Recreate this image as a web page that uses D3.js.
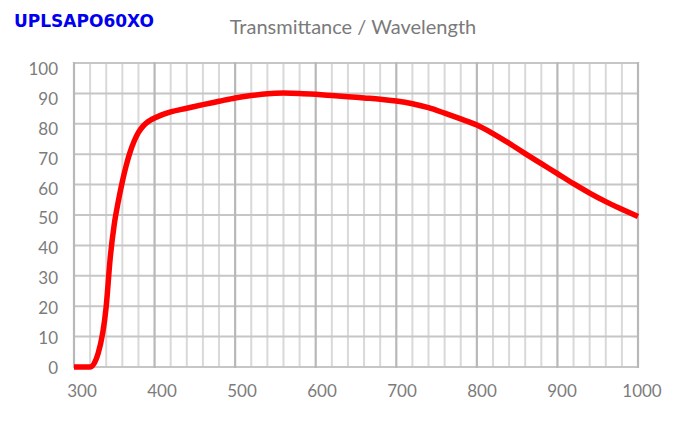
<!DOCTYPE html>
<html>
<head>
<meta charset="utf-8">
<script src="https://cdn.jsdelivr.net/npm/d3@7"></script>
<style>
  body { margin: 0; background: #fff; }
</style>
</head>
<body>
<svg width="680" height="429"></svg>
<script>
// wavelength (nm) and transmittance (%)
var wavelength = [300, 310, 320, 330, 340, 345, 350, 355, 360, 365, 370, 375, 380, 385, 390, 395, 400,
                  420, 440, 460, 480, 500, 520, 540, 560, 580, 600, 620, 640, 660, 680,
                  700, 720, 740, 760, 780, 800, 820, 840, 860, 880, 900, 920, 940, 960,
                  980, 1000];
var transmittance = [0, 0, 0, 4.5, 20, 36, 47, 54.5, 61, 66.5, 71, 74.5, 77.2, 79, 80.3, 81.2, 81.9,
                     83.9, 85.1, 86.3, 87.4, 88.5, 89.3, 89.9, 90.1, 90.0, 89.7, 89.3, 88.9, 88.5, 88.1,
                     87.5, 86.6, 85.3, 83.5, 81.6, 79.6, 76.8, 73.6, 70.2, 66.9, 63.6, 60.3, 57.2, 54.4,
                     51.9, 49.5];
var xTicks = [300, 400, 500, 600, 700, 800, 900, 1000];
var yTicks = [0, 10, 20, 30, 40, 50, 60, 70, 80, 90, 100];

var svg = d3.select("svg");
var plotLeft = 74, plotRight = 638, plotTop = 63, plotBottom = 367;

var x = d3.scaleLinear().domain([300, 1000]).range([plotLeft, plotRight]);
var y = d3.scaleLinear().domain([0, 100]).range([plotBottom, plotTop]);
// the labels in the original sit on a slightly different spacing than the grid
var xLab = d3.scaleLinear().domain([300, 1000]).range([82, 642]);
var yLab = d3.scaleLinear().domain([0, 100]).range([368, 69]);

// minor vertical grid every 20 nm
svg.append("g").selectAll("line")
  .data(d3.range(320, 1000, 20).filter(function(d) { return d % 100 != 0; }))
  .enter().append("line")
  .attr("x1", function(d) { return x(d); }).attr("x2", function(d) { return x(d); })
  .attr("y1", plotTop).attr("y2", plotBottom)
  .attr("stroke", "#d9d9d9").attr("stroke-width", 2);

// horizontal grid
svg.append("g").selectAll("line")
  .data(yTicks)
  .enter().append("line")
  .attr("x1", plotLeft).attr("x2", plotRight)
  .attr("y1", function(d) { return y(d); }).attr("y2", function(d) { return y(d); })
  .attr("stroke", "#c6c6c6").attr("stroke-width", 2);

// major vertical grid
svg.append("g").selectAll("line")
  .data(xTicks)
  .enter().append("line")
  .attr("x1", function(d) { return x(d); }).attr("x2", function(d) { return x(d); })
  .attr("y1", plotTop - 1).attr("y2", plotBottom + 1)
  .attr("stroke", "#b8b8b8").attr("stroke-width", 2.2);

// tick labels
svg.append("g").selectAll("text")
  .data(yTicks)
  .enter().append("text")
  .attr("x", 58)
  .attr("y", function(d) { return yLab(d); })
  .attr("dy", "0.35em")
  .attr("text-anchor", "end")
  .attr("font-family", "Lato, 'Open Sans', sans-serif")
  .attr("font-size", "17px")
  .attr("fill", "#7c7c7c")
  .text(function(d) { return d; });

svg.append("g").selectAll("text")
  .data(xTicks)
  .enter().append("text")
  .attr("x", function(d) { return xLab(d); })
  .attr("y", 397)
  .attr("text-anchor", "middle")
  .attr("font-family", "Lato, 'Open Sans', sans-serif")
  .attr("font-size", "17px")
  .attr("fill", "#7c7c7c")
  .text(function(d) { return d; });

// the curve
var line = d3.line()
  .x(function(d, i) { return x(wavelength[i]); })
  .y(function(d) { return y(d); })
  .curve(d3.curveMonotoneX);

svg.append("path")
  .datum(transmittance)
  .attr("d", line)
  .attr("fill", "none")
  .attr("stroke", "#ff0000")
  .attr("stroke-width", 5.5)
  .attr("stroke-linejoin", "round");

// titles
svg.append("text")
  .attr("x", 353).attr("y", 34)
  .attr("text-anchor", "middle")
  .attr("font-family", "Lato, 'Open Sans', sans-serif")
  .attr("font-size", "20px")
  .attr("fill", "#7a7a7a")
  .text("Transmittance / Wavelength");

svg.append("text")
  .attr("x", 14).attr("y", 27)
  .attr("font-family", "'DejaVu Sans', Verdana, sans-serif")
  .attr("font-weight", "bold")
  .attr("font-size", "17px")
  .attr("fill", "#0000ee")
  .text("UPLSAPO60XO");
</script>
</body>
</html>
